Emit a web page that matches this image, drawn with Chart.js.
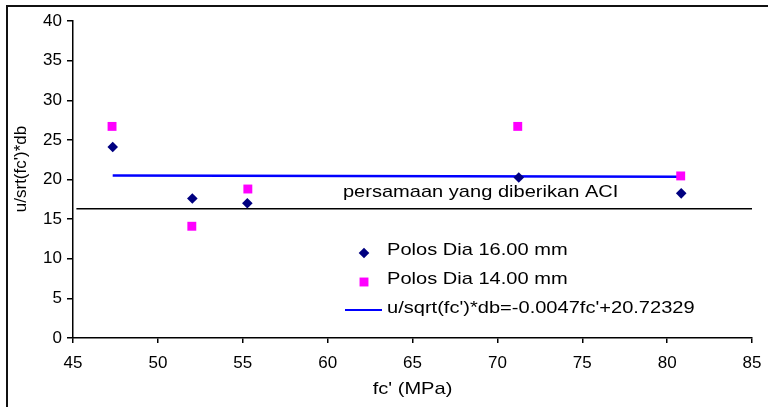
<!DOCTYPE html>
<html>
<head>
<meta charset="utf-8">
<script src="https://cdn.jsdelivr.net/npm/chart.js@4/dist/chart.umd.min.js"></script>
<style>
  html, body { margin: 0; padding: 0; background: #fff; }
  #wrap { width: 768px; height: 407px; }
</style>
</head>
<body>
<div id="wrap"><canvas id="bondChart" width="768" height="407"></canvas></div>
<script>
// Polos Dia 16.00 mm
var fcDia16 = [47.34, 52.03, 55.27, 71.26, 80.83];
var uDia16 = [24.1, 17.6, 17.0, 20.25, 18.25];

// Polos Dia 14.00 mm
var fcDia14 = [47.3, 52.0, 55.3, 71.2, 80.8];
var uDia14 = [26.7, 14.1, 18.8, 26.7, 20.45];

// trend line
var fcTrend = [47.34, 80.83];
var uTrend = [20.5, 20.34];

// ACI line
var fcAci = [45.2, 85];
var uAci = [16.3, 16.3];

var labels = ['Polos Dia 16.00 mm', 'Polos Dia 14.00 mm', "u/sqrt(fc')*db=-0.0047fc'+20.72329"];
var aciText = 'persamaan yang diberikan ACI';
var xTitle = "fc' (MPa)";
var yTitle = "u/srt(fc')*db";

var FONT = '"Liberation Sans", Arial, sans-serif';
var SX = 1.18; // the picture is a bit wider than tall

function toPoints(xs, ys) {
    return xs.map(function (x, i) { return { x: x, y: ys[i] }; });
}

function wideText(ctx, text, x, y, align) {
    ctx.save();
    ctx.translate(x, y);
    ctx.scale(SX, 1);
    ctx.textAlign = align || 'left';
    ctx.fillText(text, 0, 0);
    ctx.restore();
}

// frame, titles, ACI label and legend
var extras = {
    id: 'extras',
    beforeDraw: function (chart) {
        var ctx = chart.ctx;
        ctx.save();
        ctx.fillStyle = '#fff';
        ctx.fillRect(0, 0, chart.width, chart.height);
        ctx.strokeStyle = '#111';
        ctx.lineWidth = 2;
        ctx.beginPath();
        ctx.moveTo(7, chart.height + 2);
        ctx.lineTo(7, 6);
        ctx.lineTo(chart.width + 2, 6);
        ctx.stroke();
        ctx.restore();
    },
    afterDraw: function (chart) {
        var ctx = chart.ctx;
        var area = chart.chartArea;
        var xs = chart.scales.x, ys = chart.scales.y;
        ctx.save();
        ctx.fillStyle = '#000';
        ctx.font = '17px ' + FONT;
        ctx.textBaseline = 'alphabetic';

        // ACI label above its line
        wideText(ctx, aciText, xs.getPixelForValue(60.9), ys.getPixelForValue(uAci[0]) - 12, 'left');

        // axis titles
        wideText(ctx, xTitle, (area.left + area.right) / 2, 394, 'center');
        ctx.save();
        ctx.translate(26, 169);
        ctx.rotate(-Math.PI / 2);
        ctx.textAlign = 'center';
        ctx.fillText(yTitle, 0, 0);
        ctx.restore();

        // legend
        var lx = 364, tx = 387, y0 = 255, step = 29;
        var ds = chart.data.datasets;
        for (var i = 0; i < 3; i++) {
            var d = ds[i];
            var by = y0 + i * step;
            if (i < 2) {
                ctx.fillStyle = d.backgroundColor;
                var r = d.pointRadius;
                if (d.pointStyle === 'rectRot') {
                    ctx.beginPath();
                    ctx.moveTo(lx, by - 2 - r);
                    ctx.lineTo(lx + r, by - 2);
                    ctx.lineTo(lx, by - 2 + r);
                    ctx.lineTo(lx - r, by - 2);
                    ctx.closePath();
                    ctx.fill();
                } else {
                    var h = r * Math.SQRT1_2;
                    ctx.fillRect(lx - h, by - 2 - h, 2 * h, 2 * h);
                }
            } else {
                ctx.strokeStyle = d.borderColor;
                ctx.lineWidth = 2;
                ctx.beginPath();
                ctx.moveTo(345, by - 3);
                ctx.lineTo(382, by - 3);
                ctx.stroke();
            }
            ctx.fillStyle = '#000';
            wideText(ctx, d.label, tx, by, 'left');
        }
        ctx.restore();
    }
};

var ctx = document.getElementById('bondChart').getContext('2d');
var bondChart = new Chart(ctx, {
    type: 'scatter',
    data: {
        datasets: [{
            label: labels[0],
            data: toPoints(fcDia16, uDia16),
            pointStyle: 'rectRot',
            pointRadius: 5.3,
            backgroundColor: '#000080',
            borderColor: '#000080',
            borderWidth: 0
        }, {
            label: labels[1],
            data: toPoints(fcDia14, uDia14),
            pointStyle: 'rect',
            pointRadius: 6.3,
            backgroundColor: '#FF00FF',
            borderColor: '#FF00FF',
            borderWidth: 0
        }, {
            label: labels[2],
            data: toPoints(fcTrend, uTrend),
            showLine: true,
            pointRadius: 0,
            borderColor: '#0000FF',
            borderWidth: 2.5
        }, {
            label: 'ACI',
            data: toPoints(fcAci, uAci),
            showLine: true,
            pointRadius: 0,
            borderColor: '#000',
            borderWidth: 1.5
        }]
    },
    options: {
        responsive: false,
        animation: false,
        layout: { padding: { top: 21, right: 16, left: 0, bottom: 0 } },
        plugins: {
            legend: { display: false },
            tooltip: { enabled: false }
        },
        scales: {
            x: {
                type: 'linear',
                min: 45,
                max: 85,
                afterFit: function (s) {
                    s.height = 69;
                    s.paddingLeft = 0;
                    s.paddingRight = 0;
                },
                ticks: { stepSize: 5, color: '#000', padding: 10, font: { family: FONT, size: 17 } },
                grid: { drawOnChartArea: false, tickLength: 5, color: '#000', lineWidth: 1.5 },
                border: { color: '#000', width: 1.5 }
            },
            y: {
                min: 0,
                max: 40,
                afterFit: function (s) {
                    s.width = 73;
                    s.paddingTop = 0;
                    s.paddingBottom = 0;
                },
                ticks: { stepSize: 5, color: '#000', padding: 5, font: { family: FONT, size: 17 } },
                grid: { drawOnChartArea: false, tickLength: 6, color: '#000', lineWidth: 1.5 },
                border: { color: '#000', width: 1.5 }
            }
        }
    },
    plugins: [extras]
});
</script>
</body>
</html>
